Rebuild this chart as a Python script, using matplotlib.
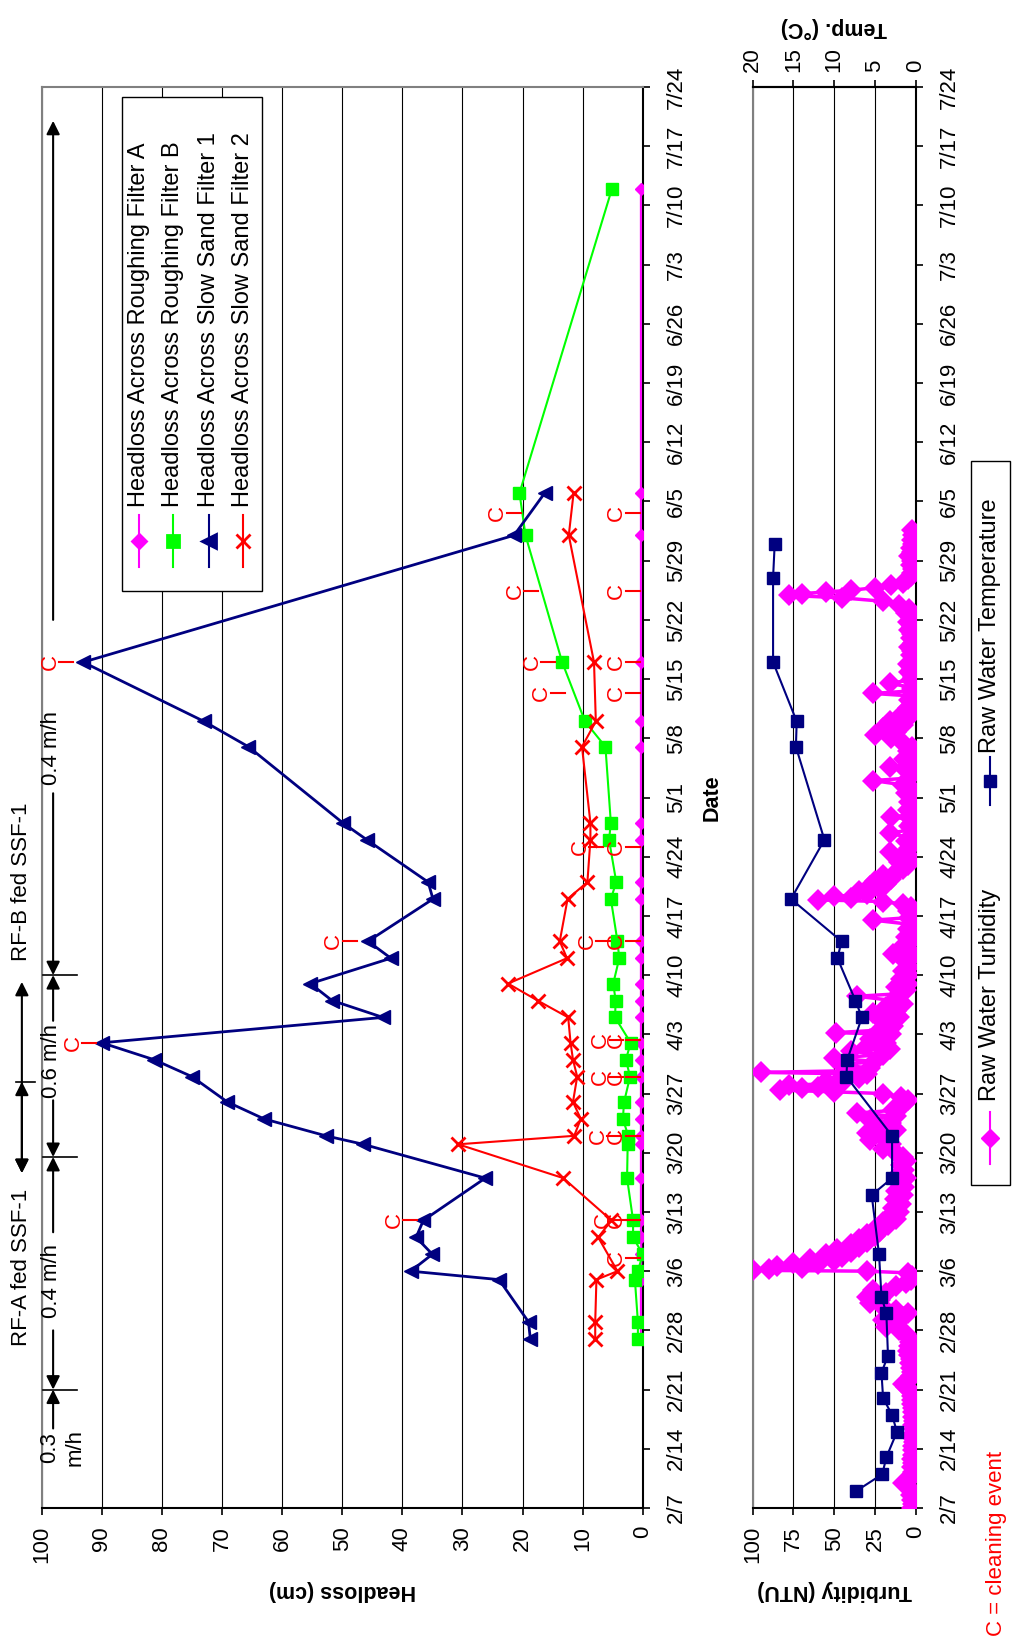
import matplotlib
matplotlib.use('Agg')
import matplotlib.pyplot as plt
from matplotlib.lines import Line2D
from matplotlib.patches import Rectangle

plt.rcParams.update({
    "font.family": ["Liberation Sans", "DejaVu Sans"],
    "font.size": 16,
})

W, H = 1013, 1644

# weekly date ticks, counted in days from 2/7
date_labels = ['2/7', '2/14', '2/21', '2/28', '3/6', '3/13', '3/20', '3/27', '4/3',
               '4/10', '4/17', '4/24', '5/1', '5/8', '5/15', '5/22', '5/29', '6/5',
               '6/12', '6/19', '6/26', '7/3', '7/10', '7/17', '7/24']
week_pos = [7 * i for i in range(len(date_labels))]

# headloss (cm)
rf_days = [20, 22, 27, 28, 30, 32, 34, 39, 43, 44, 46, 48, 51, 53, 55, 58, 60, 62,
           65, 67, 72, 74, 79, 81, 90, 93, 100, 115, 120, 156]
rfa_hl = [0.3, 0.3, 0.3, 0.3, 0.2, 0.3, 0.3, 0.3, 0.3, 0.3, 0.3, 0.3, 0.3, 0.3, 0.3,
          0.3, 0.3, 0.3, 0.3, 0.3, 0.3, 0.3, 0.3, 0.3, 0.3, 0.3, 0.3, 0.3, 0.3, 0.3]
rfb_hl = [0.8, 0.8, 1.3, 0.8, 0.0, 1.6, 1.6, 2.6, 2.5, 2.4, 3.3, 3.1, 2.1, 2.8, 2.0,
          4.6, 4.5, 4.9, 3.9, 4.2, 5.3, 4.4, 5.6, 5.3, 6.2, 9.6, 13.4, 19.5, 20.5, 5.1]

ssf1_days = [20, 22, 27, 28, 30, 32, 34, 39, 43, 44, 46, 48, 51, 53, 55, 58, 60, 62,
             65, 67, 72, 74, 79, 81, 90, 93, 100, 115, 120]
ssf1_hl = [18.7, 19.0, 23.9, 38.6, 35.0, 37.7, 36.5, 26.2, 46.5, 52.7, 63.0, 69.1,
           75.0, 81.3, 90.0, 43.2, 51.7, 55.3, 41.9, 45.7, 34.9, 35.7, 45.9, 49.9,
           65.6, 73.0, 93.1, 21.4, 16.3]

ssf2_days = [20, 22, 27, 28, 32, 34, 39, 43, 44, 46, 48, 51, 53, 55, 58, 60, 62,
             65, 67, 72, 74, 79, 81, 90, 93, 100, 115, 120]
ssf2_hl = [7.9, 7.9, 7.7, 4.2, 7.4, 5.2, 13.2, 30.7, 11.4, 10.3, 11.6, 10.9, 11.6,
           12.0, 12.4, 17.5, 22.4, 12.6, 13.8, 12.5, 9.2, 8.7, 8.7, 10.1, 7.8, 8.1,
           12.3, 11.5]

# cleaning events: (day, headloss at the foot of the tick)
clean_ssf1_days = [34, 55, 67, 100]
clean_ssf1_hl = [37.6, 91.0, 47.6, 94.8]
clean_rfb_days = [34, 44, 51, 55.3, 67, 78.2, 96.3, 100, 108.4, 117.6]
clean_rfb_hl = [2.8, 3.6, 3.3, 3.2, 5.4, 6.6, 13.0, 14.6, 17.4, 20.3]
clean_rfa_days = [29.5, 34, 44, 51, 55.3, 67, 78.2, 96.3, 100, 108.4, 117.6]
clean_rfa_hl = [0.5] * 11

# raw water
temp_days = [2, 4, 6, 9, 11, 13, 16, 18, 23, 25, 30, 37, 39, 44, 51, 53, 58, 60,
             65, 67, 72, 79, 90, 93, 100, 110, 114]
temp_c = [7.3, 4.1, 3.6, 2.3, 2.9, 4.0, 4.2, 3.4, 3.6, 4.2, 4.5, 5.4, 2.9, 2.9, 8.5,
          8.4, 6.6, 7.4, 9.6, 9.1, 15.3, 11.2, 14.7, 14.6, 17.5, 17.5, 17.3]

turb_days = [
    0.0, 0.5, 1.0, 1.5, 2.0, 2.5, 2.9, 3.3, 3.8, 4.3, 4.8, 5.3, 5.8, 6.3, 6.8, 7.3,
    7.8, 8.3, 8.8, 9.3, 9.8, 10.3, 10.8, 11.3, 11.8, 12.3, 12.8, 13.3, 13.8, 14.3,
    14.7, 15.1, 15.6, 16.1, 16.6, 17.1, 17.6, 18.1, 18.6, 19.1, 19.6, 20.1, 20.6,
    21.0, 21.4, 21.8, 22.2, 22.6, 23.0, 23.4, 23.8, 24.2, 24.6, 25.0, 25.4, 25.8,
    26.2, 26.6, 27.0, 27.4, 27.8, 28.0, 28.1, 28.2, 28.4, 28.6, 28.8, 29.0, 29.2,
    29.4, 29.7, 30.0, 30.3, 30.6, 30.9, 31.2, 31.5, 31.8, 32.1, 32.4, 32.7, 33.0,
    33.4, 33.8, 34.2, 34.6, 35.0, 35.5, 36.0, 36.5, 37.0, 37.5, 38.0, 38.5, 39.0,
    39.5, 40.0, 40.5, 41.0, 41.5, 42.0, 42.5, 43.0, 43.5, 44.0, 44.3, 44.7, 45.1,
    45.5, 45.9, 46.3, 46.7, 47.0, 47.4, 47.8, 48.2, 48.6, 49.0, 49.2, 49.4, 49.6,
    49.8, 50.0, 50.2, 50.5, 50.8, 51.0, 51.3, 51.5, 51.7, 52.0, 52.4, 52.8, 53.2,
    53.6, 54.0, 54.3, 54.6, 55.0, 55.5, 56.0, 56.2, 56.5, 57.0, 57.5, 58.0, 58.5,
    58.8, 59.2, 59.6, 60.0, 60.5, 60.8, 61.2, 61.6, 62.0, 62.5, 63.0, 63.5, 64.0,
    64.5, 65.0, 65.5, 66.0, 66.5, 67.0, 67.5, 68.0, 68.5, 69.0, 69.5, 69.8, 70.2,
    70.6, 71.0, 71.4, 71.7, 71.9, 72.1, 72.3, 72.6, 72.9, 73.2, 73.5, 73.8, 74.1,
    74.4, 74.8, 75.2, 75.6, 76.0, 76.4, 76.8, 77.2, 77.6, 78.0, 78.4, 78.8, 79.2,
    79.8, 80.2, 80.6, 81.0, 81.4, 81.7, 82.0, 82.5, 83.0, 83.5, 84.0, 84.5, 85.0,
    85.5, 86.0, 86.3, 86.8, 87.3, 87.6, 88.0, 88.5, 89.0, 89.5, 90.0, 90.5, 91.0,
    91.4, 91.8, 92.2, 92.6, 93.0, 93.4, 93.8, 94.2, 94.6, 95.0, 95.5, 96.0, 96.3,
    96.6, 97.0, 97.5, 97.9, 98.3, 98.8, 99.3, 99.8, 100.3, 100.8, 101.3, 101.8,
    102.3, 102.8, 103.3, 103.8, 104.3, 104.8, 105.3, 105.8, 106.3, 106.8, 107.2,
    107.6, 107.9, 108.1, 108.3, 108.5, 108.8, 109.1, 109.4, 109.8, 110.2, 110.6,
    111.0, 111.5, 112.0, 112.5, 113.0, 113.5, 114.0, 114.5, 115.0, 115.6]
turb_ntu = [
    2, 1.5, 2, 3, 2.5, 5, 8, 4, 2, 1.5, 2, 1.5, 2, 1.5, 1.8, 1.5,
    1.2, 1.5, 1.5, 1.2, 1.5, 1.2, 1.5, 1.8, 1.5, 2, 2.5, 2, 3, 6,
    8, 4, 3, 2.5, 3, 3.5, 3, 4, 5, 4, 3.5, 4, 6,
    10, 18, 12, 20, 8, 5, 12, 20, 28, 22, 30, 18, 26,
    12, 6, 3, 2, 5, 30, 100, 90, 70, 85, 60, 75, 50,
    65, 45, 55, 40, 48, 35, 40, 30, 35, 25, 30, 22, 25,
    17, 20, 12, 15, 10, 14, 9, 13, 8, 12, 7, 11, 6,
    10, 7, 9, 6, 8, 12, 20, 15, 28, 18, 30, 12, 25,
    15, 28, 12, 36, 14, 10, 7, 5, 9, 20, 50, 83, 70,
    60, 78, 45, 55, 35, 45, 30, 95, 40, 28, 45, 25, 50,
    20, 40, 16, 30, 18, 28, 15, 49, 22, 14, 20, 10, 26,
    12, 18, 8, 14, 36, 10, 6, 12, 5, 9, 4, 8, 4,
    6, 3, 14, 4, 8, 3, 6, 2, 5, 3, 26, 4, 2,
    5, 3, 8, 20, 60, 40, 50, 30, 35, 22, 28, 18, 25,
    15, 20, 12, 8, 5, 10, 3, 6, 16, 4, 2, 6, 3,
    16, 2, 4, 2, 3, 15, 2, 5, 1.5, 4, 2, 6, 2,
    8, 26, 4, 2, 6, 16, 3, 7, 2, 5, 2, 8, 15,
    25, 12, 20, 8, 16, 5, 9, 3, 5, 2, 4, 2, 26,
    3, 2, 16, 3, 1.5, 4, 2, 5, 1.5, 3, 2, 4,
    1.5, 3, 2, 4, 2, 5, 3, 6, 4, 10, 20,
    45, 78, 70, 55, 40, 25, 15, 8, 5, 3, 2,
    1.5, 3, 2, 4, 2, 3, 1.5, 2, 1.5, 2]

NAVY = '#000080'
MAGENTA = '#FF00FF'
LIME = '#00FF00'
RED = '#FF0000'
GREY = '#808080'


def fig_box(x0, y0, x1, y1):
    return [x0 / W, 1 - y1 / H, (x1 - x0) / W, (y1 - y0) / H]


def fx(x):
    return x / W


def fy(y):
    return 1 - y / H


def date_axis(ax, pad):
    ax.set_ylim(0, 168)
    ax.set_yticks(week_pos)
    ax.set_yticklabels(date_labels)
    ax.yaxis.tick_right()
    ax.tick_params(axis='y', direction='out', length=5, width=1.2, pad=pad,
                   labelrotation=90, labelsize=16)
    for lbl in ax.get_yticklabels():
        lbl.set_va('center')


def frame(ax):
    for side in ('left', 'top'):
        ax.spines[side].set_color(GREY)
        ax.spines[side].set_linewidth(1.5)
    for side in ('bottom', 'right'):
        ax.spines[side].set_color('black')
        ax.spines[side].set_linewidth(1.5)


def clean_mark(ax, day, base):
    ax.plot([base, base + 2.3], [day, day], color=RED, lw=1.5, zorder=6)
    ax.text(base + 3.8, day, 'C', color=RED, rotation=90, ha='center', va='center',
            fontsize=16, zorder=6)


def arrow(ax, x, d0, d1, style='-|>'):
    ax.annotate('', xy=(x, d1), xytext=(x, d0), annotation_clip=False,
                arrowprops=dict(arrowstyle=style, color='black', lw=1.5,
                                mutation_scale=20, shrinkA=0, shrinkB=0))


fig = plt.figure(figsize=(W / 100, H / 100), dpi=100)

# ---- headloss panel ----
ax1 = fig.add_axes(fig_box(41.7, 87, 642.7, 1508))
ax1.set_xlim(100, 0)
ax1.set_xticks(range(0, 101, 10))
ax1.tick_params(axis='x', direction='out', length=5, width=1.2, pad=8,
                labelrotation=90, labelsize=16)
ax1.grid(axis='x', color='black', lw=0.8)
date_axis(ax1, 12)
frame(ax1)

ax1.plot(rfa_hl, rf_days, color=MAGENTA, lw=1.5, marker='D', ms=6, zorder=3)
ax1.plot(rfb_hl, rf_days, color=LIME, lw=1.5, marker='s', ms=8.5, zorder=3)
ax1.plot(ssf1_hl, ssf1_days, color=NAVY, lw=2, marker='<', ms=10, zorder=4)
ax1.plot(ssf2_hl, ssf2_days, color=RED, lw=1.5, marker='x', ms=10, mew=2, zorder=4)

for d, v in zip(clean_ssf1_days, clean_ssf1_hl):
    clean_mark(ax1, d, v)
for d, v in zip(clean_rfb_days, clean_rfb_hl):
    clean_mark(ax1, d, v)
for d, v in zip(clean_rfa_days, clean_rfa_hl):
    clean_mark(ax1, d, v)

ax1.set_xlabel('Headloss (cm)', rotation=180, fontweight='bold', fontsize=15.5,
               labelpad=12)
ax1.yaxis.set_label_position('right')
ax1.set_ylabel('Date', rotation=90, fontweight='bold', fontsize=15.5, labelpad=10)

# filtration rate periods
rate_x = 98.1
for d in (14, 41.5, 63):
    ax1.plot([99.8, 94.1], [d, d], color='black', lw=1.2, clip_on=False, zorder=5)
arrow(ax1, rate_x, 9.4, 14)
arrow(ax1, rate_x, 21, 14)
arrow(ax1, rate_x, 32.6, 41.5)
arrow(ax1, rate_x, 48.2, 41.5)
arrow(ax1, rate_x, 57.6, 63)
arrow(ax1, rate_x, 84.5, 63)
arrow(ax1, rate_x, 105, 164)
ax1.text(96.6, 7.2, '0.3\nm/h', rotation=90, ha='center', va='center',
         multialignment='center', linespacing=1.3, fontsize=16)
for d, s in ((26.8, '0.4 m/h'), (52.9, '0.6 m/h'), (89.8, '0.4 m/h')):
    ax1.text(98.4, d, s, rotation=90, ha='center', va='center', fontsize=16)

# roughing filter feeding SSF-1
arrow(ax1, 103.3, 50.4, 39.6, style='<|-|>')
arrow(ax1, 103.3, 39.6, 62.2, style='<|-|>')
ax1.plot([104.2, 101.1], [50.4, 50.4], color='black', lw=1.2, clip_on=False)
ax1.text(103.3, 28.4, 'RF-A fed SSF-1', rotation=90, ha='center', va='center',
         fontsize=16)
ax1.text(103.3, 74.0, 'RF-B fed SSF-1', rotation=90, ha='center', va='center',
         fontsize=16)

# legend (drawn by hand so it reads along the rotated page)
fig.patches.append(Rectangle((fx(122.3), fy(591)), (261.7 - 122.3) / W,
                             (591 - 97.3) / H, transform=fig.transFigure,
                             facecolor='white', edgecolor='black', lw=1.0, zorder=5))
legend_rows = [
    (139.3, MAGENTA, 'D', 7, 'Headloss Across Roughing Filter A'),
    (173.3, LIME, 's', 8.5, 'Headloss Across Roughing Filter B'),
    (209.0, NAVY, '<', 10, 'Headloss Across Slow Sand Filter 1'),
    (243.3, RED, 'x', 10, 'Headloss Across Slow Sand Filter 2'),
]
for xc, col, mk, ms, label in legend_rows:
    fig.add_artist(Line2D([fx(xc), fx(xc)], [fy(566.7), fy(515)], color=col, lw=1.5,
                          transform=fig.transFigure, zorder=6))
    fig.add_artist(Line2D([fx(xc)], [fy(540.7)], color=col, marker=mk, ms=ms, mew=2,
                          transform=fig.transFigure, zorder=6))
    fig.text(fx(xc), fy(506.7), label, rotation=90, rotation_mode='anchor',
             ha='left', va='center', fontsize=17, zorder=7)

# ---- raw water panel ----
ax2 = fig.add_axes(fig_box(752.7, 87, 915.7, 1508))
ax2.set_xlim(100, 0)
ax2.set_xticks([0, 25, 50, 75, 100])
ax2.tick_params(axis='x', direction='out', length=5, width=1.2, pad=8,
                labelrotation=90, labelsize=16)
ax2.grid(axis='x', color='black', lw=0.8)
date_axis(ax2, 12)
frame(ax2)
ax2.spines['top'].set_color('black')
ax2.plot(turb_ntu, turb_days, color=MAGENTA, lw=2.5, marker='D', ms=11, mew=0,
         solid_joinstyle='round', zorder=3)
ax2.set_xlabel('Turbidity (NTU)', rotation=180, fontweight='bold', fontsize=15.5,
               labelpad=12)

ax2t = ax2.twiny()
ax2t.set_xlim(20, 0)
ax2t.set_xticks([0, 5, 10, 15, 20])
ax2t.tick_params(axis='x', direction='out', length=5, width=1.2, pad=6,
                 labelrotation=90, labelsize=16)
for side in ('left', 'right', 'bottom'):
    ax2t.spines[side].set_visible(False)
ax2t.spines['top'].set_linewidth(1.5)
ax2t.plot(temp_c, temp_days, color=NAVY, lw=1.5, marker='s', ms=9, zorder=4)
ax2t.set_xlabel('Temp. (°C)', rotation=180, fontweight='bold', fontsize=15.5,
                labelpad=10)

fig.patches.append(Rectangle((fx(971), fy(1185)), (1010 - 971) / W, (1185 - 461) / H,
                             transform=fig.transFigure, facecolor='white',
                             edgecolor='black', lw=1.0, zorder=5))
for y0, y1, ym, yt, col, mk, label in (
        (1164, 1112, 1138, 1101, MAGENTA, 'D', 'Raw Water Turbidity'),
        (805, 757, 781, 753, NAVY, 's', 'Raw Water Temperature')):
    fig.add_artist(Line2D([fx(990), fx(990)], [fy(y0), fy(y1)], color=col, lw=1.5,
                          transform=fig.transFigure, zorder=6))
    fig.add_artist(Line2D([fx(990)], [fy(ym)], color=col, marker=mk, ms=9,
                          transform=fig.transFigure, zorder=6))
    fig.text(fx(990), fy(yt), label, rotation=90, rotation_mode='anchor',
             ha='left', va='center', fontsize=17, zorder=7)

fig.text(fx(996), fy(1636), 'C = cleaning event', color=RED, rotation=90,
         rotation_mode='anchor', ha='left', va='center', fontsize=16)

fig.savefig('out.png', dpi=100)
